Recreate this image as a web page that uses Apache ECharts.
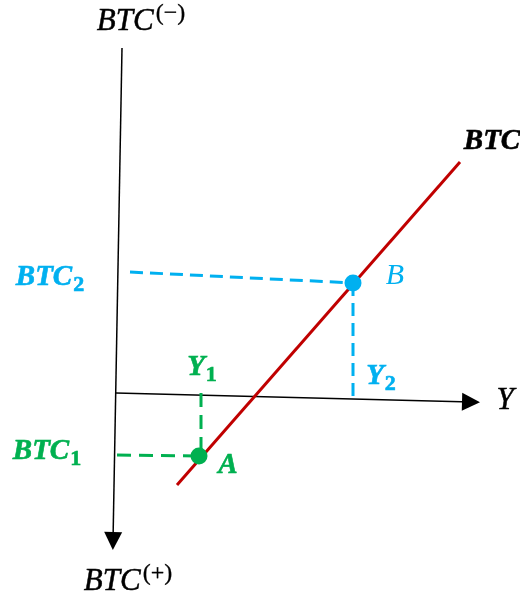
<!DOCTYPE html>
<html>
<head>
<meta charset="utf-8">
<script src="https://cdn.jsdelivr.net/npm/echarts@6/dist/echarts.min.js"></script>
<style>
  html, body { margin: 0; padding: 0; background: #fff; }
  #chart { width: 520px; height: 605px; }
</style>
</head>
<body>
<div id="chart"></div>
<script>
// diagram units = picture pixels (x right, y down)
const btcAxis = [[122, 48], [113, 541]];
const yAxisLine = [[116, 393], [471, 402]];
const btcLine = [[177, 485], [460, 162]];
const pointA = [199, 456];
const pointB = [353, 283];
const greenDashH = [[117, 455], [199, 456]];
const greenDashV = [[201, 393], [201, 456]];
const blueDashH = [[130, 272], [353, 283]];
const blueDashV = [[353, 283], [353, 400]];

// label anchors and texts
const labelTexts = ['{i|BTC}{sup|(−)}', '{i|BTC}{sup|(+)}', '{b|BTC}', '{i|Y}',
  '{bb|BTC}{bsub|2}', '{bg|BTC}{gsub|1}', '{bg|Y}{gsub|1}', '{bb|Y}{bsub|2}', '{bg|A}', '{ib|B}'];
const labelAnchors = [[141, 22], [128, 582], [492, 142], [505, 401],
  [50, 278], [47, 452], [202, 368], [381, 377], [228, 466], [395, 276]];

const RED = '#C00000', BLUE = '#00B0F0', GREEN = '#00B050';
const FONT = 'Liberation Serif';

var chart = echarts.init(document.getElementById('chart'));

function dashed(data, color, w, dash) {
  return {
    type: 'line', data: data, symbol: 'none', silent: true, z: 2,
    lineStyle: { color: color, width: w, type: dash }
  };
}

function txt(color, size, italic, bold, pad, border) {
  return {
    fontFamily: FONT, fontSize: size, color: color,
    fontStyle: italic ? 'italic' : 'normal', fontWeight: bold ? 'bold' : 'normal',
    textBorderColor: color, textBorderWidth: border,
    padding: pad || 0
  };
}

var option = {
  animation: false,
  grid: { left: 0, right: 0, top: 0, bottom: 0 },
  xAxis: { type: 'value', min: 0, max: 520, show: false },
  yAxis: { type: 'value', min: 0, max: 605, inverse: true, show: false },
  series: [
    {
      type: 'lines', coordinateSystem: 'cartesian2d', silent: true, z: 1,
      symbol: ['none', 'triangle'], symbolSize: [0, 18],
      lineStyle: { color: '#000', width: 1.5, opacity: 1, curveness: 0 },
      data: [{ coords: btcAxis }, { coords: yAxisLine }]
    },
    {
      type: 'line', data: btcLine, symbol: 'none', silent: true, z: 3,
      lineStyle: { color: RED, width: 3 }
    },
    dashed(greenDashH, GREEN, 3, [14, 8]),
    dashed(greenDashV, GREEN, 3, [14, 8]),
    dashed(blueDashH, BLUE, 3, [13, 7]),
    dashed(blueDashV, BLUE, 3, [13, 7]),
    {
      type: 'scatter', z: 5, symbolSize: 17, silent: true,
      itemStyle: { opacity: 1 },
      data: [
        { value: pointA, itemStyle: { color: GREEN } },
        { value: pointB, itemStyle: { color: BLUE } }
      ]
    },
    {
      type: 'scatter', z: 6, symbolSize: 0, silent: true,
      itemStyle: { opacity: 1 },
      data: labelAnchors,
      label: {
        show: true, position: 'inside',
        formatter: function (p) { return labelTexts[p.dataIndex]; },
        rich: {
          i: txt('#000', 31, true, false, 0, 0.5),
          sup: txt('#000', 24, false, false, [0, 0, 16, 2], 0.3),
          b: txt('#000', 29, true, true, 0, 0.6),
          bb: txt(BLUE, 29, true, true, 0, 0.6),
          bsub: txt(BLUE, 22, false, true, [14, 0, 0, 1], 0.6),
          bg: txt(GREEN, 29, true, true, 0, 0.6),
          gsub: txt(GREEN, 22, false, true, [14, 0, 0, 1], 0.6),
          ib: txt(BLUE, 30, true, false, 0, 0)
        }
      }
    }
  ]
};

option && chart.setOption(option);
</script>
</body>
</html>
